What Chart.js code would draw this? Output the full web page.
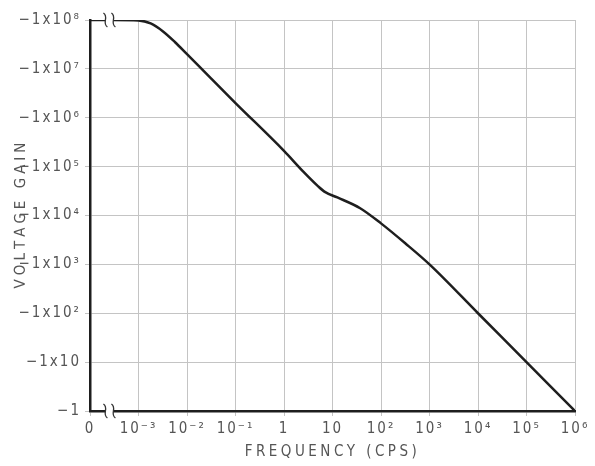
<!DOCTYPE html>
<html>
<head>
<meta charset="utf-8">
<script src="https://cdn.jsdelivr.net/npm/chart.js@4.4.0/dist/chart.umd.min.js"></script>
<style>
  html, body { margin: 0; padding: 0; background: #fff; }
</style>
</head>
<body>
<canvas id="gainChart" width="595" height="466"></canvas>
<script>
// frequency in cps, the first point sits on the "0" position left of the break
const frequencies = [1e-4, 3e-4, 1e-3, 1.78e-3, 3.16e-3, 5.62e-3, 1e-2, 3.16e-2, 1e-1, 1, 2.5, 5, 7.1, 12.6, 37.2, 100, 316, 1e3, 1e4, 1e5, 1e6];
// gain magnitude, the axis shows it as -1xN
const voltageGain = [1e8, 1e8, 9.8e7, 8.5e7, 5.9e7, 3.55e7, 2e7, 6.3e6, 2e6, 2.1e5, 7.9e4, 4e4, 3e4, 2.34e4, 1.41e4, 6.9e3, 2.7e3, 1e3, 100, 10, 1];

const xTickValues = [1e-4, 1e-3, 1e-2, 1e-1, 1, 10, 1e2, 1e3, 1e4, 1e5, 1e6];
const xTickLabels = ['0', '10⁻³', '10⁻²', '10⁻¹', '1', '10', '10²', '10³', '10⁴', '10⁵', '10⁶'];
const yTickValues = [1, 10, 1e2, 1e3, 1e4, 1e5, 1e6, 1e7, 1e8];
const yTickLabels = ['−1', '−1x10', '−1x10²', '−1x10³', '−1x10⁴', '−1x10⁵', '−1x10⁶', '−1x10⁷', '−1x10⁸'];

const yTitle = 'VOLTAGE GAIN';
const breakAt = Math.pow(10, -3.6); // where the axis break marks go

const FONT = "'Liberation Sans Narrow', 'DejaVu Sans Condensed', 'Roboto Condensed', 'Liberation Sans', sans-serif";
Chart.defaults.font.family = FONT;
Chart.defaults.color = '#555';

// x title is spaced out wider than the tick labels
const baseDrawTitle = Chart.Scale.prototype.drawTitle;
Chart.Scale.prototype.drawTitle = function () {
  this.ctx.save();
  this.ctx.letterSpacing = '3.5px';
  baseDrawTitle.call(this);
  this.ctx.restore();
};

const spacing = {
  id: 'spacing',
  beforeDraw(chart) {
    chart.ctx.letterSpacing = '2px';
  }
};

// y title set letter by letter; a hair off 90deg so glyphs don't get pixel snapped
const verticalTitle = {
  id: 'verticalTitle',
  afterDraw(chart) {
    const ctx = chart.ctx;
    const gap = 4;
    ctx.save();
    ctx.letterSpacing = '0px';
    ctx.font = '15px ' + FONT;
    ctx.fillStyle = '#555';
    ctx.textBaseline = 'middle';
    ctx.textAlign = 'left';
    ctx.translate(21, (chart.chartArea.top + chart.chartArea.bottom) / 2);
    ctx.rotate(-Math.PI / 2 + 0.001);
    const chars = [...yTitle];
    const widths = chars.map(c => ctx.measureText(c).width);
    const total = widths.reduce((a, b) => a + b, 0) + gap * (chars.length - 1);
    let pos = -total / 2;
    chars.forEach((c, i) => {
      ctx.fillText(c, pos, 0);
      pos += widths[i] + gap;
    });
    ctx.restore();
  }
};

const axisBreak = {
  id: 'axisBreak',
  afterDatasetsDraw(chart) {
    const ctx = chart.ctx;
    const x = chart.scales.x, y = chart.scales.y;
    const bx = x.getPixelForValue(breakAt);
    [y.getPixelForValue(y.max), y.getPixelForValue(y.min)].forEach(py => {
      ctx.save();
      ctx.fillStyle = '#fff';
      ctx.fillRect(bx - 4, py - 3, 8, 6);
      ctx.strokeStyle = '#333';
      ctx.lineWidth = 1.3;
      [bx - 4, bx + 4].forEach(cx => {
        ctx.beginPath();
        ctx.moveTo(cx - 2, py - 7);
        ctx.bezierCurveTo(cx + 4, py - 3, cx - 4, py + 3, cx + 2, py + 7);
        ctx.stroke();
      });
      ctx.restore();
    });
  }
};

function decadeTicks(values) {
  return scale => { scale.ticks = values.map(v => ({ value: v })); };
}

const ctx = document.getElementById('gainChart').getContext('2d');
new Chart(ctx, {
  type: 'line',
  data: {
    datasets: [{
      data: frequencies.map((f, i) => ({ x: f, y: voltageGain[i] })),
      borderColor: '#1e1e1e',
      borderWidth: 2.5,
      pointRadius: 0,
      cubicInterpolationMode: 'monotone',
      fill: false
    }]
  },
  options: {
    responsive: false,
    animation: false,
    devicePixelRatio: 1,
    layout: { padding: { top: 20, right: 20, left: 0, bottom: 0 } },
    plugins: { legend: { display: false }, tooltip: { enabled: false } },
    scales: {
      x: {
        type: 'logarithmic',
        min: 1e-4,
        max: 1e6,
        afterBuildTicks: decadeTicks(xTickValues),
        afterFit: s => { s.height = 55; s.paddingLeft = 0; s.paddingRight = 0; },
        grid: { color: '#c4c4c4', lineWidth: 1, tickLength: 5 },
        border: { color: '#1e1e1e', width: 2.5 },
        ticks: {
          padding: 4,
          maxRotation: 0,
          autoSkip: false,
          font: { size: 15 },
          callback: v => xTickLabels[xTickValues.indexOf(v)]
        },
        title: {
          display: true,
          text: 'FREQUENCY (CPS)',
          font: { size: 15 },
          padding: { top: 0, bottom: 5 }
        }
      },
      y: {
        type: 'logarithmic',
        min: 1,
        max: 1e8,
        afterBuildTicks: decadeTicks(yTickValues),
        afterFit: s => { s.width = 90; s.paddingTop = 0; s.paddingBottom = 0; },
        grid: { color: '#c4c4c4', lineWidth: 1, tickLength: 5 },
        border: { color: '#1e1e1e', width: 2.5 },
        ticks: {
          padding: 4,
          autoSkip: false,
          font: { size: 15 },
          callback: v => yTickLabels[yTickValues.indexOf(v)]
        },
        title: { display: false }
      }
    }
  },
  plugins: [spacing, verticalTitle, axisBreak]
});
</script>
</body>
</html>
